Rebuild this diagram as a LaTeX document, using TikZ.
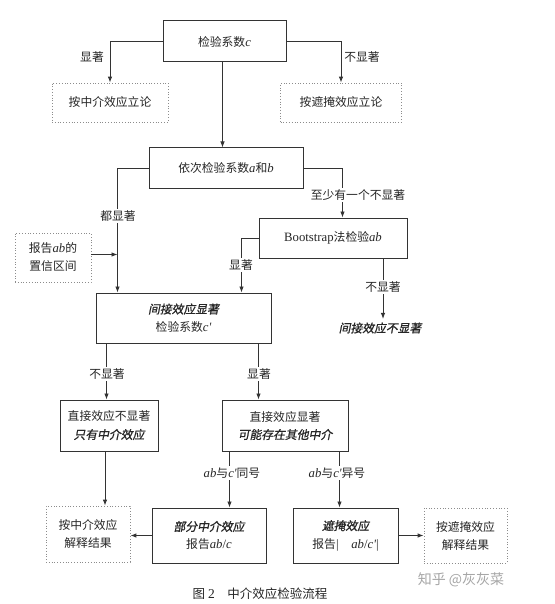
\documentclass[tikz,border=0pt]{standalone}
\usepackage{fontspec}
\setmainfont{Noto Sans CJK SC}
\newfontfamily\tms{Liberation Serif}[Scale=1.08]
\newfontfamily\zhit{Noto Sans CJK SC}[FakeSlant=0.2,FakeBold=1]
\newcommand\li[1]{{\tms\itshape #1}}
\usetikzlibrary{arrows.meta,calc}
\begin{document}
\begin{tikzpicture}[x=1pt,y=-1pt,
  every node/.style={font=\fontsize{11.8}{18}\selectfont, text=black!85},
  box/.style={draw=black!80, line width=1pt, inner sep=0pt, align=center},
  dbox/.style={draw=black!45, dotted, line width=0.8pt, inner sep=0pt, align=center},
  lbl/.style={fill=white, inner sep=1.5pt},
  arr/.style={draw=black!80, line width=0.9pt, -{Latex[length=6pt,width=4.5pt]}},
  ln/.style={draw=black!80, line width=0.9pt}]
\fill[white] (0,0) rectangle (554,604);
\useasboundingbox (0,0) rectangle (554,604);

% nodes
\node[box, minimum width=123pt, minimum height=41pt] (c) at (224.5,41.5) {检验系数\li{c}};
\node[dbox, minimum width=116pt, minimum height=39pt] (lm) at (110,102.5) {按中介效应立论};
\node[dbox, minimum width=121pt, minimum height=39pt] (rm) at (341,102.5) {按遮掩效应立论};
\node[box, minimum width=154pt, minimum height=40pt] (ab) at (226,168) {依次检验系数\li{a}和\li{b}};
\node[dbox, minimum width=76pt, minimum height=49pt] (ci) at (53,257.5) {报告\li{ab}的\\置信区间};
\node[box, minimum width=148pt, minimum height=40pt] (bs) at (333,238) {{\tms Bootstrap}法检验\li{ab}};
\node[box, minimum width=175pt, minimum height=50pt] (ind) at (183.5,318) {{\zhit 间接效应显著}\\检验系数\li{c'}};
\node (nind) at (380,328) {\zhit 间接效应不显著};
\node[box, minimum width=98pt, minimum height=51pt] (d1) at (109,425.5) {直接效应不显著\\{\zhit 只有中介效应}};
\node[box, minimum width=126pt, minimum height=51pt] (d2) at (285,425.5) {直接效应显著\\{\zhit 可能存在其他中介}};
\node[dbox, minimum width=84pt, minimum height=56pt] (r1) at (88,534) {按中介效应\\解释结果};
\node[box, minimum width=114pt, minimum height=55pt] (p) at (209,535.5) {{\zhit 部分中介效应}\\报告\li{ab}{\tms /}\li{c}};
\node[box, minimum width=105pt, minimum height=55pt] (m) at (345.5,535.5) {{\zhit 遮掩效应}\\报告{\tms |\quad}\li{ab}{\tms /}\li{c'}{\tms |}};
\node[dbox, minimum width=83pt, minimum height=55pt] (r2) at (465.5,535.5) {按遮掩效应\\解释结果};
\node[font=\fontsize{12.5}{14}\selectfont] (cap) at (260,594) {图 {\tms 2}\quad 中介效应检验流程};
\node[font=\fontsize{14}{16}\selectfont, text=black!35] (wm) at (461,580) {知乎 @灰灰菜};

% coordinates
\coordinate (jl) at ($(ind.north west)+(22,0)$);
\coordinate (jr) at ($(ind.north west)+(146,0)$);
\coordinate (jb) at ($(bs.north west)+(84,0)$);
\coordinate (jn) at ($(bs.south)+(50,0)$);
\coordinate (s0) at ($(c.south)+(-2,0)$);
\coordinate (s1) at ($(ind.south west)+(11,0)$);
\coordinate (s2) at ($(ind.south west)+(163,0)$);
\coordinate (s3) at ($(d1.south)+(-4,0)$);
\coordinate (s4) at ($(d2.south west)+(8,0)$);
\coordinate (s5) at ($(d2.south west)+(118,0)$);
\coordinate (ce) at ($(ci.east)+(0,-3)$);

% connectors
\draw[arr] (c.west) -| (lm.north);
\node[lbl] (l1) at (92,57) {显著};
\draw[arr] (c.east) -| (rm.north);
\node[lbl] (l2) at (362,57) {不显著};
\draw[arr] (s0) -- (s0 |- ab.north);

\draw[arr] (ab.west) -| (jl);
\node[lbl] (l3) at (118,216) {都显著};
\draw[arr] (ce) -- (ce -| jl);

\draw[arr] (ab.east) -| (jb);
\node[lbl] (l4) at (358,195) {至少有一个不显著};

\draw[arr] (bs.west) -| (jr);
\node[lbl] (l5) at (241,265) {显著};

\draw[arr] (jn) -- (jn |- nind.north);
\node[lbl] (l6) at (383,287) {不显著};

\draw[arr] (s1) -- (s1 |- d1.north);
\node[lbl] (l7) at (107,374) {不显著};
\draw[arr] (s2) -- (s2 |- d2.north);
\node[lbl] (l8) at (259,374) {显著};

\draw[arr] (s3) -- (s3 |- r1.north);
\draw[arr] (s4) -- (s4 |- p.north);
\node[lbl] (l9) at (232,473) {\li{ab}与\li{c'}同号};
\draw[arr] (s5) -- (s5 |- m.north);
\node[lbl] (l10) at (337,473) {\li{ab}与\li{c'}异号};

\draw[arr] (p.west) -- (p.west -| r1.east);
\draw[arr] (m.east) -- (m.east -| r2.west);
\end{tikzpicture}
\end{document}
